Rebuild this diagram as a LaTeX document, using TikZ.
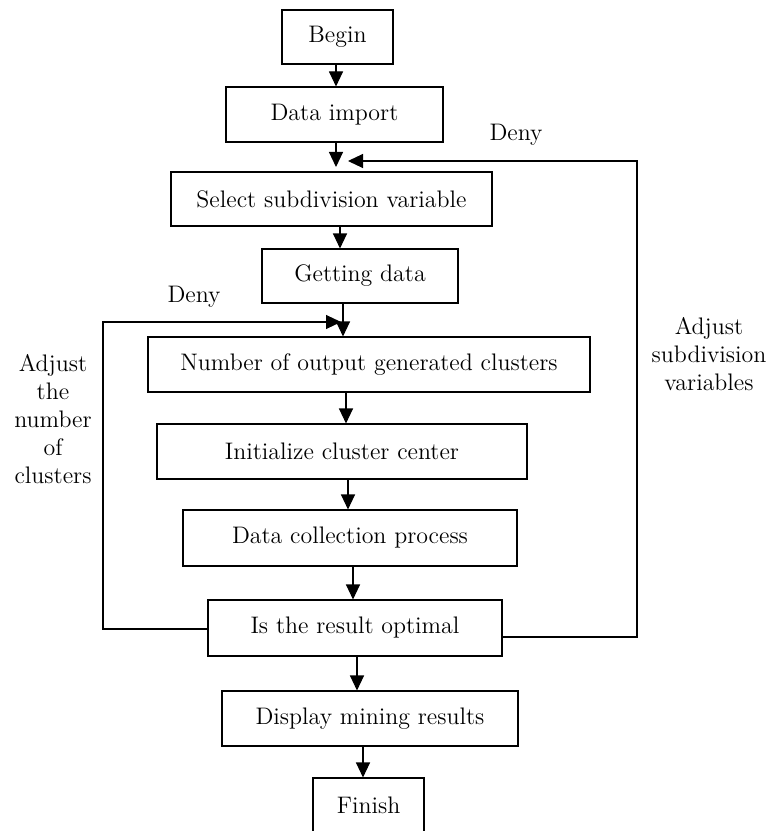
\documentclass[tikz,border=0pt]{standalone}
\usepackage{fontspec}
\usepackage{tikz}
\usetikzlibrary{arrows.meta, positioning, calc}

\tikzset{
    stepbox/.style={draw, line width=0.6pt, minimum height=1.1cm, inner sep=0pt},
    flowarrow/.style={line width=0.6pt, -{Triangle[length=0.3cm, width=0.28cm]}},
    loopline/.style={line width=0.6pt}
}

\begin{document}
\begin{tikzpicture}[x=0.2mm, y=-0.2mm, font=\fontsize{13.6}{16}\selectfont]

    % frame of the page
    \useasboundingbox (0,0) rectangle (766,831);

    % === Main column of steps ===
    \node[stepbox, minimum width=2.22cm, minimum height=1.08cm] (begin) at (337.5,37) {Begin};
    \node[stepbox, minimum width=4.34cm] (import) at (334.5,114.5) {Data import};
    \node[stepbox, minimum width=6.42cm, minimum height=1.08cm] (select) at (331.5,199) {Select subdivision variable};
    \node[stepbox, minimum width=3.92cm, minimum height=1.08cm] (getting) at (360,276) {Getting data};
    \node[stepbox, minimum width=8.84cm] (number) at (369,364.5) {Number of output generated clusters};
    \node[stepbox, minimum width=7.40cm] (init) at (342,451.5) {Initialize cluster center};
    \node[stepbox, minimum width=6.68cm, minimum height=1.12cm] (collect) at (350,538) {Data collection process};
    \node[stepbox, minimum width=5.88cm, minimum height=1.12cm] (optimal) at (355,628) {Is the result optimal};
    \node[stepbox, minimum width=5.92cm] (display) at (370,718.5) {Display mining results};
    \node[stepbox, minimum width=2.22cm] (finish) at (368.5,805.5) {Finish};

    % Meeting points of the loops
    \coordinate (mergetop) at (336,167);
    \coordinate (denytop) at (348,161);
    \coordinate (denyleft) at (341,322);

    % === Straight arrows ===
    \draw[flowarrow] (begin.south -| 336,0) -- (import.north -| 336,0);
    \draw[flowarrow] (import.south -| mergetop) -- (mergetop);
    \draw[flowarrow] (select.south -| 340,0) -- (getting.north -| 340,0);
    \draw[flowarrow] (getting.south -| 343,0) -- (number.north -| 343,0);
    \draw[flowarrow] (number.south -| 346,0) -- (init.north -| 346,0);
    \draw[flowarrow] (init.south -| 348,0) -- (collect.north -| 348,0);
    \draw[flowarrow] (collect.south -| 353,0) -- (optimal.north -| 353,0);
    \draw[flowarrow] (optimal.south -| 357,0) -- (display.north -| 357,0);
    \draw[flowarrow] (display.south -| 363,0) -- (finish.north -| 363,0);

    % === Feedback loops ===
    \draw[loopline] (optimal.east |- 0,637) -- (637,637) -- (637,161) -- (420,161);
    \draw[flowarrow] (420,161) -- (denytop);
    \draw[loopline] (optimal.west |- 0,629) -- (103,629) -- (103,322) -- (250,322);
    \draw[flowarrow] (250,322) -- (denyleft);

    % Labels
    \node (denyone) at (516,135) {Deny};
    \node (denytwo) at (194,297) {Deny};
    \node[align=center] (adjustright) at (709,354) {Adjust\\subdivision\\variables};
    \node[align=center] (adjustleft) at (53,419) {Adjust\\the\\number\\of\\clusters};

\end{tikzpicture}
\end{document}
